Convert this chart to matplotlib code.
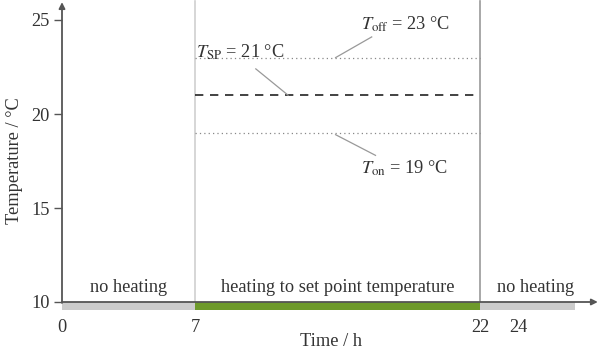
import matplotlib
matplotlib.use("Agg")
import matplotlib.pyplot as plt

plt.rcParams['font.family'] = ['Liberation Serif', 'DejaVu Serif']
plt.rcParams['mathtext.fontset'] = 'stix'

# schedule (hours) and temperatures (°C)
phase_start = [0, 7, 22]
phase_end = [7, 22, 27]
phase_names = ["no heating", "heating to set point temperature", "no heating"]
phase_colors = ["#cccccc", "#6e9a2b", "#cccccc"]
x_ticks = [0, 7, 22, 24]
y_ticks = [10, 15, 20, 25]
t_off = 23
t_sp = 21
t_on = 19

fig = plt.figure(figsize=(6.01, 3.52), dpi=100)
ax = fig.add_axes([62 / 601, 50 / 352, (601 - 62) / 601, 300 / 352])
ax.set_xlim(0, (601 - 62) / 19.0)
ax.set_ylim(10, 10 + 300 / 18.8)
for s in ax.spines.values():
    s.set_visible(False)

txt = "#333333"
fs = 13.2

# phase bars under the time axis
for a, b, c, name in zip(phase_start, phase_end, phase_colors, phase_names):
    ax.fill_between([a, b], 9.55, 10, color=c, lw=0, clip_on=False, zorder=2)
    ax.text((a + b) / 2 if b < 27 else 24.9, 10.78, name, ha='center', va='center',
            fontsize=fs, color=txt)

# vertical boundaries
ax.plot([7, 7], [10, 26], color="#d0d0d0", lw=1.2, clip_on=False, zorder=1)
ax.plot([22, 22], [10, 26], color="#999999", lw=1.2, clip_on=False, zorder=1)

# axes with arrows
ax.annotate("", xy=(28.2, 10), xytext=(0, 10),
            arrowprops=dict(arrowstyle="-|>", color="#555555", lw=1.3,
                            mutation_scale=9, shrinkA=0, shrinkB=0), annotation_clip=False)
ax.annotate("", xy=(0, 25.95), xytext=(0, 9.95),
            arrowprops=dict(arrowstyle="-|>", color="#555555", lw=1.3,
                            mutation_scale=9, shrinkA=0, shrinkB=0), annotation_clip=False)

# thresholds
ax.plot([7, 22], [t_off, t_off], ls=(0, (1, 2.5)), color="#888888", lw=0.9)
ax.plot([7, 22], [t_sp, t_sp], ls=(0, (5, 4)), color="#222222", lw=1.2)
ax.plot([7, 22], [t_on, t_on], ls=(0, (1, 2.5)), color="#888888", lw=0.9)

lead = dict(color="#999999", lw=0.9)
ax.plot([16.3, 14.4], [24.1, 23.0], **lead)
ax.plot([10.2, 11.9], [22.4, 21.0], **lead)
ax.plot([14.4, 16.5], [18.9, 17.8], **lead)

ax.text(18.1, 24.75, r"$T_{\mathrm{off}}$ = 23 °C", ha='center', va='center', fontsize=fs, color=txt)
ax.text(7.05, 23.3, r"$T_{\mathrm{SP}}$ = 21 °C", ha='left', va='center', fontsize=fs, color=txt)
ax.text(18.0, 17.1, r"$T_{\mathrm{on}}$ = 19 °C", ha='center', va='center', fontsize=fs, color=txt)

ax.set_xticks(x_ticks)
ax.set_xticklabels([str(v) for v in x_ticks])
ax.set_yticks(y_ticks)
ax.set_yticklabels([str(v) for v in y_ticks])
ax.tick_params(axis='x', length=0, pad=12, labelsize=fs, labelcolor=txt)
ax.tick_params(axis='y', length=6, width=1, color="#555555", pad=3, labelsize=fs, labelcolor=txt)
ax.set_xlabel("Time / h", fontsize=fs, color=txt, labelpad=-2)
ax.set_ylabel("Temperature / °C", fontsize=fs, color=txt)
ax.yaxis.set_label_coords(-0.072, 0.47)

fig.savefig("out.png", dpi=100)
